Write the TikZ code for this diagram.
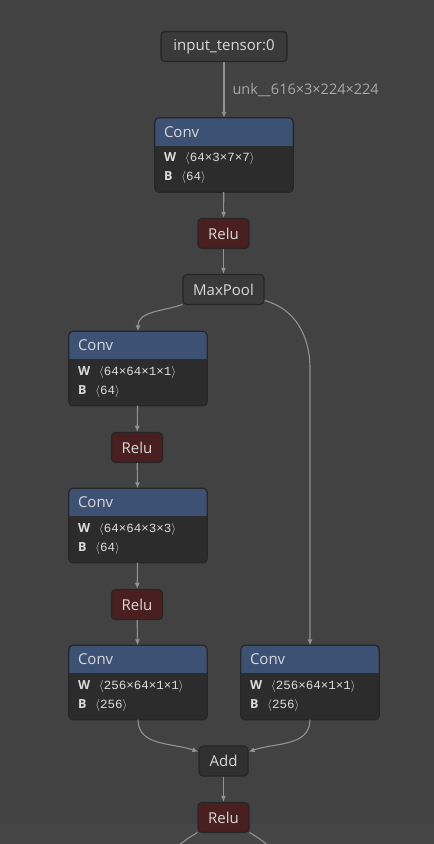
\documentclass[tikz,border=0pt]{standalone}
\usepackage{fontspec}
\setmainfont{Open Sans}
\newfontfamily\shapefont{Liberation Mono}
\usetikzlibrary{arrows.meta}

\definecolor{bg}{HTML}{424242}
\definecolor{bgband}{HTML}{464646}
\definecolor{nodeborder}{HTML}{262626}
\definecolor{plainfill}{HTML}{3A3A3A}
\definecolor{addfill}{HTML}{303030}
\definecolor{relufill}{HTML}{4A1F1F}
\definecolor{convblue}{HTML}{3D5175}
\definecolor{convdark}{HTML}{2C2C2C}
\definecolor{edgegray}{HTML}{929292}
\definecolor{textgray}{HTML}{D8D8D8}
\definecolor{labelgray}{HTML}{A8A8A8}

% conv operator: name, position, W shape, B shape
\newcommand{\convblock}[4]{%
	\node[convbody] (#1) at (#2) {};
	\begin{scope}
		\clip[rounded corners=4pt] (#1.north west) rectangle (#1.south east);
		\fill[convblue] (#1.north west) rectangle ([yshift=-28pt]#1.north east);
	\end{scope}
	\draw[draw=nodeborder, line width=1.2pt, rounded corners=4pt] (#1.north west) rectangle (#1.south east);
	\node[optext, anchor=west] at ([xshift=9pt, yshift=-14pt]#1.north west) {Conv};
	\node[paramtext, anchor=west] at ([xshift=9pt, yshift=-41pt]#1.north west) {\textbf{W}\hspace{9pt}$\langle${\shapefont #3}$\rangle$};
	\node[paramtext, anchor=west] at ([xshift=9pt, yshift=-60pt]#1.north west) {\textbf{B}\hspace{9pt}$\langle${\shapefont #4}$\rangle$};
}

\begin{document}
\begin{tikzpicture}[x=1pt, y=-1pt, >={Latex[length=6pt, width=5pt]},
	optext/.style={text=textgray, font=\fontsize{15}{18}\selectfont, inner sep=0pt},
	paramtext/.style={text=textgray!90, font=\fontsize{12.5}{15}\selectfont, inner sep=0pt},
	opbox/.style={rectangle, rounded corners=4pt, draw=nodeborder, line width=1.2pt, text=textgray,
		font=\fontsize{15}{18}\selectfont, inner xsep=10pt, inner ysep=0pt, minimum height=30pt},
	plainop/.style={opbox, fill=plainfill},
	reluop/.style={opbox, fill=relufill, minimum width=51pt},
	addop/.style={opbox, fill=addfill, minimum width=49pt},
	convbody/.style={rectangle, rounded corners=4pt, fill=convdark, minimum width=138pt, minimum height=74pt, inner sep=0pt},
	edge/.style={draw=edgegray, line width=1.1pt, ->},
	edgelabel/.style={text=labelgray, font=\fontsize{14.5}{17}\selectfont, inner sep=0pt}]

	\fill[bg] (0,0) rectangle (434,844);
	\fill[bgband] (0,824) rectangle (434,844);
	\useasboundingbox (0,0) rectangle (434,844);

	% nodes
	\node[plainop, minimum width=126pt] (in) at (224,46.5) {input\_tensor:0};
	\convblock{c1}{224,155}{64×3×7×7}{64}
	\node[reluop] (r1) at (223.5,233.5) {Relu};
	\node[plainop, minimum width=81pt] (mp) at (223.5,289.5) {MaxPool};
	\convblock{c2}{138,368.5}{64×64×1×1}{64}
	\node[reluop] (r2) at (137,447.5) {Relu};
	\convblock{c3}{138,525.5}{64×64×3×3}{64}
	\node[reluop] (r3) at (137,604.5) {Relu};
	\convblock{c4}{138,682.5}{256×64×1×1}{256}
	\convblock{c5}{310,682.5}{256×64×1×1}{256}
	\node[addop] (add) at (223.5,761) {Add};
	\node[reluop] (r4) at (223.5,817.5) {Relu};
	\coordinate (outl) at (160,880);
	\coordinate (outr) at (287,880);

	% edges
	\draw[edge] (in) -- node[edgelabel, anchor=west, xshift=8pt] {unk\_\_616×3×224×224} (c1);
	\draw[edge] (c1) -- (r1);
	\draw[edge] (r1) -- (mp);
	\draw[edge] (mp) to[out=200, in=90] (c2.north);
	\draw[edge] (mp) to[out=-15, in=90] (c5.north |- c2.center) -- (c5.north);
	\draw[edge] (c2) -- (r2);
	\draw[edge] (r2) -- (c3);
	\draw[edge] (c3) -- (r3);
	\draw[edge] (r3) -- (c4);
	\draw[edge] (c4.south) to[out=-90, in=160] (add);
	\draw[edge] (c5.south) to[out=-90, in=20] (add);
	\draw[edge] (add) -- (r4);
	\draw[edge, -] (r4) to[out=210, in=80] (outl);
	\draw[edge, -] (r4) to[out=-30, in=100] (outr);
\end{tikzpicture}
\end{document}
